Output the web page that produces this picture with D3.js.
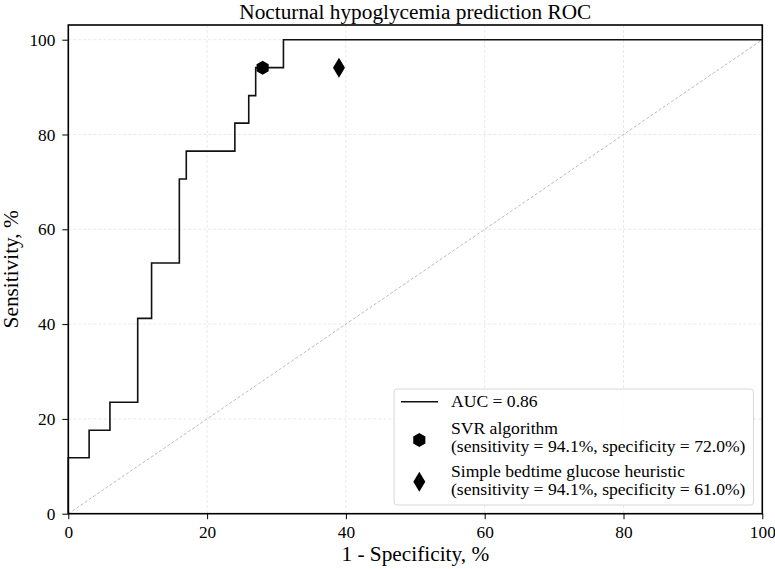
<!DOCTYPE html>
<html><head><meta charset="utf-8">
<script src="https://cdn.jsdelivr.net/npm/d3@7"></script>
<style>body{margin:0;background:#fff}svg{display:block}text{font-family:"Liberation Serif","Times New Roman",serif;fill:#000}</style>
</head><body><svg id="c" width="775" height="569"></svg>
<script>
const rocFpr = [0, 0, 3, 3, 6, 6, 10, 10, 12, 12, 16, 16, 17, 17, 24, 24, 26, 26, 27, 27, 31, 31, 100];
const rocTpr = [0, 11.8, 11.8, 17.6, 17.6, 23.5, 23.5, 41.2, 41.2, 52.9, 52.9, 70.6, 70.6, 76.5, 76.5, 82.4, 82.4, 88.2, 88.2, 94.1, 94.1, 100, 100];
const pointNames = ["SVR algorithm", "Simple bedtime glucose heuristic"];
const pointFpr = [28, 39];
const pointTpr = [94.1, 94.1];
const pointShapes = ["hexagon", "diamond"];
const pointSubtitles = ["(sensitivity = 94.1%, specificity = 72.0%)", "(sensitivity = 94.1%, specificity = 61.0%)"];
const aucLabel = "AUC = 0.86";
const xTicks = [0, 20, 40, 60, 80, 100];
const yTicks = [0, 20, 40, 60, 80, 100];
const titleText = "Nocturnal hypoglycemia prediction ROC";
const xLabel = "1 - Specificity, %";
const yLabel = "Sensitivity, %";

const svg = d3.select("#c");
const L = 68.3, R = 762.3, T = 25, B = 513.7;
const x = d3.scaleLinear().domain([0, 100]).range([L, R]);
const y = d3.scaleLinear().domain([0, 103.1]).range([B, T]);

// grid
const g = svg.append("g");
g.selectAll(".gx").data(xTicks).join("line")
  .attr("x1", d => x(d)).attr("x2", d => x(d)).attr("y1", T).attr("y2", B)
  .attr("stroke", "#e3e3e3").attr("stroke-width", 0.8).attr("stroke-dasharray", "3,2");
g.selectAll(".gy").data(yTicks).join("line")
  .attr("y1", d => y(d)).attr("y2", d => y(d)).attr("x1", L).attr("x2", R)
  .attr("stroke", "#e3e3e3").attr("stroke-width", 0.8).attr("stroke-dasharray", "3,2");

// diagonal
svg.append("line").attr("x1", x(0)).attr("y1", y(0)).attr("x2", x(100)).attr("y2", y(100))
  .attr("stroke", "#aaa").attr("stroke-width", 0.8).attr("stroke-dasharray", "3,2");

// ROC
const line = d3.line().x(d => x(d[0])).y(d => y(d[1]));
svg.append("path").datum(rocFpr.map((v, i) => [v, rocTpr[i]]))
  .attr("d", line).attr("fill", "none").attr("stroke", "#111").attr("stroke-width", 1.6);

// markers
function hexPath(r) {
  const pts = d3.range(6).map(i => { const a = Math.PI / 2 + i * Math.PI / 3; return [r * Math.cos(a), r * Math.sin(a)]; });
  return "M" + pts.map(p => p.join(",")).join("L") + "Z";
}
function diaPath(w, h) { return `M0,${-h}L${w},0L0,${h}L${-w},0Z`; }
function shapePath(s) { return s === "hexagon" ? hexPath(7) : diaPath(6, 10); }
svg.selectAll(".pt").data(pointFpr).join("path")
  .attr("transform", (d, i) => `translate(${x(d)},${y(pointTpr[i])})`)
  .attr("d", (d, i) => shapePath(pointShapes[i])).attr("fill", "#000");

// axes
const xAxis = svg.append("g").attr("transform", `translate(0,${B})`)
  .call(d3.axisBottom(x).tickValues(xTicks).tickSize(5.5).tickPadding(7));
const yAxis = svg.append("g").attr("transform", `translate(${L},0)`)
  .call(d3.axisLeft(y).tickValues(yTicks).tickSize(6).tickPadding(7));
[xAxis, yAxis].forEach(a => {
  a.select(".domain").remove();
  a.selectAll("line").attr("stroke", "#000").attr("stroke-width", 1);
  a.selectAll("text").attr("font-size", 17.3).attr("font-family", "Liberation Serif");
});
svg.append("rect").attr("x", L).attr("y", T).attr("width", R - L).attr("height", B - T)
  .attr("fill", "none").attr("stroke", "#000").attr("stroke-width", 1.6);

// title and labels
svg.append("text").attr("x", (L + R) / 2).attr("y", 18.5).attr("text-anchor", "middle").attr("font-size", 21.3).text(titleText);
svg.append("text").attr("x", (L + R) / 2).attr("y", 561).attr("text-anchor", "middle").attr("font-size", 21.3).text(xLabel);
svg.append("text").attr("transform", `translate(17.5,${(T + B) / 2}) rotate(-90)`).attr("text-anchor", "middle").attr("font-size", 21.3).text(yLabel);

// legend
const lg = svg.append("g");
lg.append("rect").attr("x", 394).attr("y", 389).attr("width", 359.5).attr("height", 116).attr("rx", 3)
  .attr("fill", "#fff").attr("fill-opacity", 0.85).attr("stroke", "#d8d8d8").attr("stroke-width", 1);
lg.append("line").attr("x1", 401).attr("x2", 438).attr("y1", 401.7).attr("y2", 401.7).attr("stroke", "#111").attr("stroke-width", 1.6);
lg.append("text").attr("x", 451).attr("y", 407).attr("font-size", 17.6).text(aucLabel);
const rowY = [[433.5, 452], [476.5, 495]];
const markY = [440, 481.7];
pointNames.forEach((n, i) => {
  lg.append("path").attr("transform", `translate(419.3,${markY[i]})`).attr("d", shapePath(pointShapes[i])).attr("fill", "#000");
  lg.append("text").attr("x", 451).attr("y", rowY[i][0]).attr("font-size", 17.6).text(n);
  lg.append("text").attr("x", 451).attr("y", rowY[i][1]).attr("font-size", 17.6).text(pointSubtitles[i]);
});
</script></body></html>
